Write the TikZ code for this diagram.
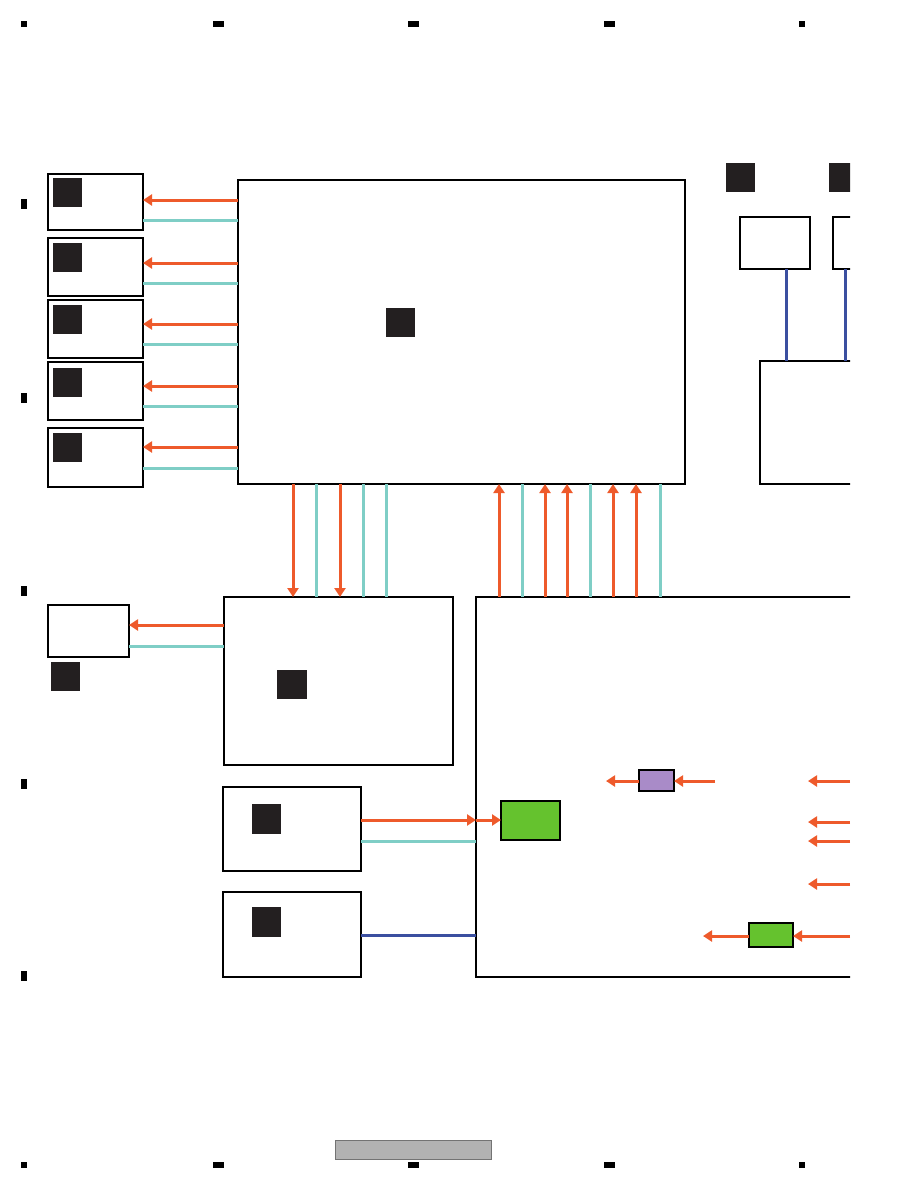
\documentclass[tikz,border=0pt]{standalone}
\usetikzlibrary{arrows.meta}
\definecolor{sigorange}{HTML}{EE5A2B}
\definecolor{linkteal}{HTML}{7FCEC6}
\definecolor{busblue}{HTML}{3B4FA0}
\definecolor{tagblack}{HTML}{231F20}
\definecolor{chipgreen}{HTML}{65C22E}
\definecolor{chippurple}{HTML}{A98BC8}
\tikzset{
    every node/.style = {inner sep=0pt, outer sep=0pt},
    box/.style = {draw=black, line width=1.9pt, fill=white, anchor=north west},
    tag/.style = {fill=tagblack, anchor=north west, minimum width=29pt, minimum height=29pt},
    chip/.style = {draw=black, line width=1.1pt, anchor=north west},
    regmark/.style = {fill=black, minimum height=6pt},
    sig/.style = {draw=sigorange, line width=3pt, -{Triangle[length=9pt, width=11pt]}},
    lnk/.style = {draw=linkteal, line width=3pt},
    bus/.style = {draw=busblue, line width=3pt}
}
\begin{document}
\begin{tikzpicture}[x=1pt, y=-1pt]
    \useasboundingbox (0,0) rectangle (918,1188);
    % register marks
    \foreach \mx/\mw [count=\i] in {24/6, 218.5/11, 413.5/11, 609.5/11, 802/6} {
        \node[regmark, minimum width=\mw pt] (top\i) at (\mx,24) {};
        \node[regmark, minimum width=\mw pt] (bot\i) at (\mx,1165) {};
    }
    \foreach \my [count=\i] in {204, 398, 591, 784, 976}
        \node[regmark, minimum width=6pt, minimum height=10pt] (side\i) at (24,\my) {};
    \node[fill=black!30, draw=black!55, line width=0.8pt, anchor=north west,
          minimum width=156pt, minimum height=19pt] (pagebar) at (335,1140) {};

    \begin{scope}
        \clip (0,0) rectangle (850,1188);
        % left column
        \node[box, minimum width=95pt, minimum height=56pt] (out1) at (48,174) {};
        \node[box, minimum width=95pt, minimum height=58pt] (out2) at (48,238) {};
        \node[box, minimum width=95pt, minimum height=58pt] (out3) at (48,300) {};
        \node[box, minimum width=95pt, minimum height=58pt] (out4) at (48,362) {};
        \node[box, minimum width=95pt, minimum height=59pt] (out5) at (48,428) {};
        \node[tag] (tag1) at (53,178) {};
        \node[tag] (tag2) at (53,243) {};
        \node[tag] (tag3) at (53,305) {};
        \node[tag] (tag4) at (53,368) {};
        \node[tag] (tag5) at (53,433) {};

        % main board
        \node[box, minimum width=447pt, minimum height=304pt] (main) at (238,180) {};
        \node[tag] (tagmain) at (386,308) {};

        % top right
        \node[tag] (tagr1) at (726,163) {};
        \node[tag] (tagr2) at (829,163) {};
        \node[box, minimum width=70pt, minimum height=52pt] (key1) at (740,217) {};
        \node[box, minimum width=60pt, minimum height=52pt] (key2) at (833,217) {};
        \node[box, minimum width=150pt, minimum height=123pt] (panel) at (760,361) {};

        % middle row
        \node[box, minimum width=81pt, minimum height=52pt] (aux) at (48,605) {};
        \node[tag] (tagaux) at (51,662) {};
        \node[box, minimum width=229pt, minimum height=168pt] (sub) at (224,597) {};
        \node[tag, minimum width=30pt] (tagsub) at (277,670) {};
        \node[box, minimum width=450pt, minimum height=380pt] (power) at (476,597) {};

        % lower left
        \node[box, minimum width=138pt, minimum height=84pt] (in1) at (223,787) {};
        \node[tag, minimum height=30pt] (tagin1) at (252,804) {};
        \node[box, minimum width=138pt, minimum height=85pt] (in2) at (223,892) {};
        \node[tag, minimum height=30pt] (tagin2) at (252,907) {};

        % parts inside power board
        \node[chip, fill=chipgreen, minimum width=59pt, minimum height=39pt] (reg1) at (501,801) {};
        \node[chip, fill=chippurple, minimum width=35pt, minimum height=21pt] (fuse) at (639,770) {};
        \node[chip, fill=chipgreen, minimum width=44pt, minimum height=24pt] (reg2) at (749,923) {};

        % left column links
        \draw[sig] (main.west |- 0,200) -- (out1.east |- 0,200);
        \draw[lnk] (main.west |- 0,220) -- (out1.east |- 0,220);
        \draw[sig] (main.west |- 0,263) -- (out2.east |- 0,263);
        \draw[lnk] (main.west |- 0,283) -- (out2.east |- 0,283);
        \draw[sig] (main.west |- 0,324) -- (out3.east |- 0,324);
        \draw[lnk] (main.west |- 0,344) -- (out3.east |- 0,344);
        \draw[sig] (main.west |- 0,386) -- (out4.east |- 0,386);
        \draw[lnk] (main.west |- 0,406) -- (out4.east |- 0,406);
        \draw[sig] (main.west |- 0,447) -- (out5.east |- 0,447);
        \draw[lnk] (main.west |- 0,468) -- (out5.east |- 0,468);

        % top right links
        \draw[bus] (key1.south -| 786,0) -- (panel.north -| 786,0);
        \draw[bus] (key2.south -| 845,0) -- (panel.north -| 845,0);

        % main to sub board
        \draw[sig] (main.south -| 293,0) -- (sub.north -| 293,0);
        \draw[lnk] (main.south -| 316,0) -- (sub.north -| 316,0);
        \draw[sig] (main.south -| 340,0) -- (sub.north -| 340,0);
        \draw[lnk] (main.south -| 363,0) -- (sub.north -| 363,0);
        \draw[lnk] (main.south -| 386,0) -- (sub.north -| 386,0);

        % power board to main
        \draw[sig] (power.north -| 499,0) -- (main.south -| 499,0);
        \draw[lnk] (power.north -| 522,0) -- (main.south -| 522,0);
        \draw[sig] (power.north -| 545,0) -- (main.south -| 545,0);
        \draw[sig] (power.north -| 567,0) -- (main.south -| 567,0);
        \draw[lnk] (power.north -| 590,0) -- (main.south -| 590,0);
        \draw[sig] (power.north -| 613,0) -- (main.south -| 613,0);
        \draw[sig] (power.north -| 636,0) -- (main.south -| 636,0);
        \draw[lnk] (power.north -| 660,0) -- (main.south -| 660,0);

        % sub board to aux
        \draw[sig] (sub.west |- 0,625) -- (aux.east |- 0,625);
        \draw[lnk] (sub.west |- 0,646) -- (aux.east |- 0,646);

        % inputs to power board
        \draw[sig] (in1.east |- 0,820) -- (power.west |- 0,820);
        \draw[sig] (power.west |- 0,820) -- (reg1.west |- 0,820);
        \draw[lnk] (in1.east |- 0,841) -- (power.west |- 0,841);
        \draw[bus] (in2.east |- 0,935) -- (power.west |- 0,935);

        % feeds inside power board
        \coordinate (fusein) at (715,781);
        \coordinate (fuseout) at (606,781);
        \draw[sig] (fusein) -- (fuse.east |- fusein);
        \draw[sig] (fuse.west |- fuseout) -- (fuseout);
        \coordinate (feed1) at (850,781);
        \coordinate (feed2) at (850,822);
        \coordinate (feed3) at (850,841);
        \coordinate (feed4) at (850,884);
        \coordinate (feed5) at (850,936);
        \coordinate (regout) at (703,936);
        \draw[sig] (feed1) -- ++(-42,0);
        \draw[sig] (feed2) -- ++(-42,0);
        \draw[sig] (feed3) -- ++(-42,0);
        \draw[sig] (feed4) -- ++(-42,0);
        \draw[sig] (feed5) -- (reg2.east |- feed5);
        \draw[sig] (reg2.west |- regout) -- (regout);
    \end{scope}
\end{tikzpicture}
\end{document}
